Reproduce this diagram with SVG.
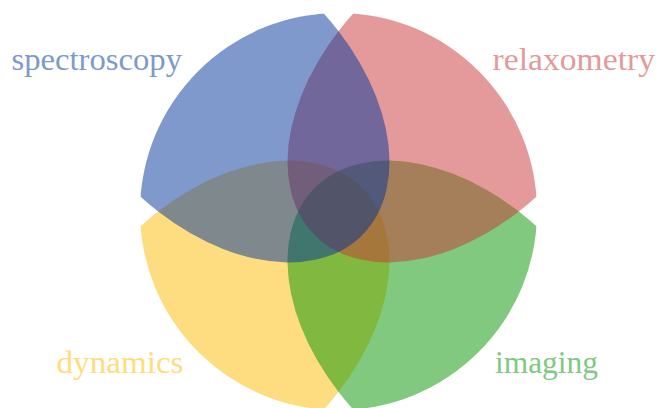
<svg xmlns="http://www.w3.org/2000/svg" width="659" height="408" viewBox="0 0 659 408">
  <defs>
    <!-- outer boundary shared by all four sets -->
    <clipPath id="outer">
      <circle cx="338.5" cy="211.5" r="198.5"/>
    </clipPath>
  </defs>
  <style>
    .set { fill-opacity: 0.5; }
    .label { font-family: "Liberation Serif", "DejaVu Serif", serif; font-size: 31px; }
  </style>
  <rect width="659" height="408" fill="#ffffff"/>

  <!-- each set: a tilted ellipse trimmed by the outer circle -->
  <g clip-path="url(#outer)">
    <g id="dynamics">
      <ellipse class="set" fill="#fdbb01" rx="199.5" ry="130" transform="translate(221.1,328.9) rotate(-45)"/>
    </g>
    <g id="imaging">
      <ellipse class="set" fill="#019300" rx="199.5" ry="130" transform="translate(455.9,328.9) rotate(45)"/>
    </g>
    <g id="relaxometry">
      <ellipse class="set" fill="#c93535" rx="199.5" ry="130" transform="translate(455.9,94.1) rotate(-45)"/>
    </g>
    <g id="spectroscopy">
      <ellipse class="set" fill="#003399" rx="199.5" ry="130" transform="translate(221.1,94.1) rotate(45)"/>
    </g>
  </g>

  <g id="labels">
    <text class="label" x="11.5" y="70" fill="#7d9acc" textLength="170.5" lengthAdjust="spacingAndGlyphs">spectroscopy</text>
    <text class="label" x="492.5" y="70" fill="#e49a9a" textLength="162.5" lengthAdjust="spacingAndGlyphs">relaxometry</text>
    <text class="label" x="56.5" y="373" fill="#fedd80" textLength="127" lengthAdjust="spacingAndGlyphs">dynamics</text>
    <text class="label" x="495" y="373" fill="#80c97f" textLength="103" lengthAdjust="spacingAndGlyphs">imaging</text>
  </g>
</svg>
